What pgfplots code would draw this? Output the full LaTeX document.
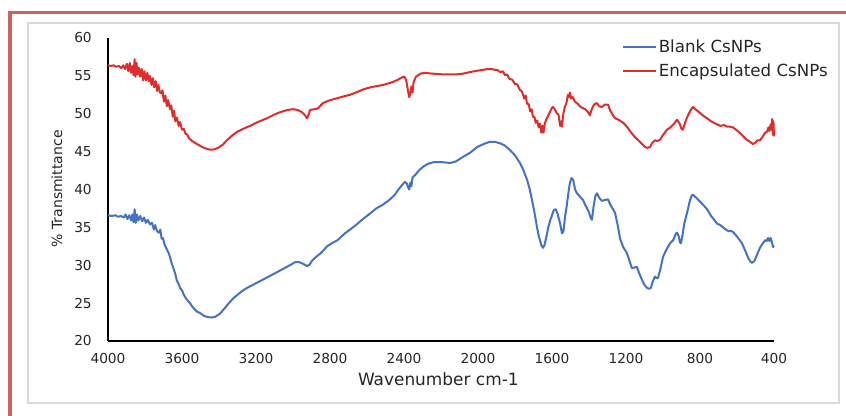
\documentclass[border=0pt]{standalone}
\usepackage{fontspec}
\setmainfont{DejaVu Sans}
\usepackage{pgfplots}
\pgfplotsset{compat=1.18}
\definecolor{blueline}{RGB}{68,114,196}
\definecolor{redline}{RGB}{222,45,42}
\definecolor{framered}{RGB}{207,96,92}
\definecolor{boxgray}{RGB}{217,217,217}

\pgfplotstableread{
x y
4000 36.6
3980 36.5
3960 36.6
3945 36.4
3930 36.5
3915 36.3
3905 36.7
3895 36.1
3885 36.6
3875 35.9
3868 36.7
3862 35.7
3856 37.4
3850 35.6
3844 36.7
3836 35.9
3826 36.5
3815 35.8
3805 36.3
3795 35.6
3785 36.0
3773 35.4
3762 35.6
3752 34.7
3745 35.3
3735 34.5
3725 34.3
3717 34.7
3710 33.5
3703 33.6
3695 32.8
3688 32.4
3680 32.0
3672 31.6
3665 31.1
3655 30.2
3645 29.5
3638 29.0
3628 28.0
3620 27.6
3610 27.0
3600 26.7
3590 26.1
3578 25.6
3568 25.3
3557 25.0
3540 24.4
3520 23.9
3503 23.7
3480 23.3
3460 23.15
3440 23.1
3420 23.2
3395 23.6
3370 24.3
3350 24.9
3324 25.6
3300 26.1
3275 26.6
3249 27.0
3210 27.5
3178 27.9
3140 28.4
3108 28.8
3070 29.3
3032 29.8
3010 30.1
2989 30.4
2965 30.4
2946 30.2
2924 29.9
2910 30.1
2897 30.6
2880 31.0
2865 31.3
2850 31.6
2830 32.1
2816 32.5
2790 32.9
2760 33.3
2746 33.6
2720 34.2
2692 34.7
2660 35.3
2622 36.1
2580 36.9
2550 37.5
2514 38.0
2480 38.6
2450 39.3
2430 40.0
2410 40.6
2395 41.0
2385 40.8
2378 40.3
2372 40.0
2366 40.9
2360 40.4
2354 41.6
2340 41.9
2320 42.5
2297 43.0
2270 43.4
2240 43.6
2222 43.6
2190 43.6
2151 43.5
2120 43.7
2081 44.3
2040 44.9
2005 45.6
1970 46.0
1935 46.3
1910 46.3
1881 46.1
1855 45.8
1827 45.2
1800 44.5
1773 43.5
1755 42.6
1735 41.3
1720 40.0
1708 38.6
1695 37.0
1681 35.0
1672 33.9
1665 33.3
1657 32.6
1649 32.3
1640 32.7
1630 33.8
1620 35.0
1610 35.9
1600 36.6
1590 37.3
1580 37.4
1570 36.8
1557 35.6
1546 34.2
1538 34.5
1530 36.3
1520 37.9
1510 39.8
1503 40.9
1495 41.5
1486 41.3
1475 40.0
1465 39.5
1450 39.1
1432 38.6
1415 37.7
1400 37.0
1390 36.2
1384 36.0
1375 37.8
1365 39.2
1357 39.5
1345 38.9
1330 38.5
1315 38.6
1297 38.7
1285 38.0
1270 37.4
1259 36.9
1245 35.3
1232 33.5
1215 32.4
1195 31.6
1180 30.5
1168 29.6
1155 29.7
1141 29.8
1128 28.9
1114 28.1
1100 27.4
1086 27.0
1075 26.9
1065 27.0
1055 27.9
1043 28.5
1035 28.3
1027 28.3
1015 29.4
1000 31.1
985 31.9
962 32.9
945 33.3
930 34.2
924 34.3
915 33.8
908 33.0
903 32.9
895 33.9
885 35.5
870 36.9
855 38.5
845 39.2
838 39.3
820 38.9
800 38.4
780 37.9
762 37.4
740 36.5
720 35.9
708 35.5
690 35.3
676 35.0
660 34.7
645 34.5
630 34.5
622 34.4
600 33.8
585 33.3
573 32.9
555 31.9
540 31.0
528 30.5
519 30.3
505 30.6
490 31.5
476 32.3
460 32.9
448 33.3
440 33.2
432 33.6
425 33.2
418 33.6
412 33.1
405 32.4
400 32.6
}\blank

\pgfplotstableread{
x y
4000 56.4
3985 56.3
3970 56.4
3955 56.2
3940 56.3
3928 56.0
3918 56.4
3908 55.9
3898 56.6
3890 55.6
3882 56.7
3875 55.4
3868 56.3
3862 55.1
3856 57.2
3852 54.9
3846 56.7
3840 55.2
3833 56.1
3826 54.9
3818 55.9
3810 54.4
3803 55.6
3795 54.4
3787 55.4
3780 54.3
3773 55.0
3765 53.8
3758 54.7
3750 53.5
3742 54.3
3735 53.0
3728 53.8
3719 52.8
3712 52.7
3705 53.1
3698 51.6
3690 52.4
3682 51.0
3675 51.8
3665 50.6
3658 51.1
3650 49.6
3643 50.4
3636 49.0
3627 49.5
3618 48.4
3610 48.9
3600 47.9
3590 48.0
3580 47.3
3573 47.3
3560 46.7
3545 46.4
3519 46.0
3490 45.6
3470 45.4
3449 45.25
3425 45.3
3405 45.5
3380 45.9
3357 46.5
3330 47.1
3303 47.6
3270 48.0
3232 48.4
3190 48.9
3141 49.4
3100 49.9
3070 50.2
3030 50.5
3000 50.6
2975 50.5
2951 50.2
2935 49.8
2924 49.4
2915 49.9
2908 50.5
2885 50.6
2865 50.7
2850 51.1
2838 51.4
2810 51.7
2784 51.9
2740 52.2
2692 52.5
2650 52.9
2622 53.2
2580 53.5
2514 53.8
2470 54.1
2440 54.4
2410 54.8
2398 54.9
2388 54.4
2378 53.0
2372 52.2
2366 52.6
2360 53.6
2354 52.8
2348 54.2
2335 54.9
2310 55.3
2286 55.4
2250 55.3
2189 55.2
2150 55.2
2114 55.2
2080 55.3
2043 55.5
2000 55.7
1970 55.8
1951 55.9
1925 55.9
1910 55.8
1897 55.8
1880 55.5
1865 55.6
1855 55.1
1843 55.2
1830 54.6
1815 54.5
1800 53.9
1789 53.9
1775 53.2
1762 52.9
1750 52.0
1742 52.4
1735 51.3
1726 51.3
1718 50.3
1710 50.6
1703 49.6
1695 49.6
1688 48.8
1680 49.1
1672 48.2
1665 48.7
1658 47.5
1652 48.4
1646 47.5
1640 48.6
1632 49.2
1622 49.7
1610 50.3
1600 50.8
1595 50.9
1585 50.6
1575 50.1
1565 49.9
1556 48.4
1550 49.0
1546 48.3
1540 49.8
1530 51.0
1522 51.4
1514 52.5
1508 52.2
1503 52.8
1496 52.0
1488 52.2
1476 51.6
1460 51.3
1450 51.0
1438 50.8
1420 50.6
1405 50.2
1395 49.8
1388 50.4
1378 51.0
1368 51.3
1357 51.4
1345 51.0
1330 50.9
1315 51.2
1297 51.2
1285 50.4
1270 49.8
1259 49.4
1240 49.2
1215 48.8
1195 48.3
1175 47.6
1151 46.9
1125 46.3
1097 45.6
1085 45.5
1070 45.6
1060 46.1
1043 46.5
1030 46.4
1015 46.6
1000 47.2
978 47.9
960 48.2
940 48.7
924 49.2
910 48.7
900 48.0
892 47.9
880 48.9
865 49.8
850 50.5
838 50.9
820 50.5
800 50.1
780 49.7
762 49.4
740 49.0
708 48.6
690 48.4
670 48.5
654 48.3
640 48.3
622 48.2
600 47.8
573 47.2
550 46.6
530 46.3
514 46.0
500 46.2
490 46.5
476 46.5
460 47.0
448 47.5
438 47.6
430 48.2
425 47.7
418 48.6
413 47.9
410 49.3
406 47.2
403 49.0
400 47.0
}\encap

\begin{document}
\begin{tikzpicture}
\begin{scope}[x=0.75pt,y=0.75pt]
\path[use as bounding box] (0,0) rectangle (846,416);
\fill[white] (0,0) rectangle (846,416);
\draw[boxgray, line width=1pt] (28,13) rectangle (839,393);
\draw[framered, line width=2.8pt, line join=miter] (10,0) -- (10,403.5) -- (846,403.5);
\end{scope}
\begin{axis}[
  at={(81pt,56.25pt)}, anchor=south west,
  scale only axis, width=499.5pt, height=227.25pt,
  x dir=reverse,
  xmin=400, xmax=4000, ymin=20, ymax=60,
  xtick={400,800,...,4000}, ytick={20,25,...,60},
  axis x line*=bottom, axis y line*=left,
  axis line style={black, line width=0.9pt},
  major tick length=0pt,
  scaled ticks=false,
  /pgf/number format/assume math mode=true,
  /pgf/number format/1000 sep={},
  tick label style={font=\fontsize{10.3}{12}\selectfont, text=black!85},
  xticklabel style={anchor=center, inner sep=0pt, yshift=-13.5pt},
  yticklabel style={anchor=east, inner sep=0pt, xshift=-12pt},
  xlabel={Wavenumber cm-1},
  ylabel={\% Transmittance},
  xlabel style={font=\fontsize{12.7}{14}\selectfont, text=black!85, at={(axis description cs:0.496,-0.125)}, anchor=center, inner sep=0pt},
  ylabel style={font=\fontsize{10.5}{12}\selectfont, text=black!85, at={(axis description cs:-0.0766,0.502)}, anchor=center, inner sep=0pt},
  legend style={draw=none, fill=none, inner sep=0pt, outer sep=0pt,
    at={(axis description cs:0.7718,0.995)}, anchor=north west,
    font=\fontsize{12.5}{14}\selectfont, text=black!85,
    row sep=6.3pt, column sep=1.5pt,
    nodes={inner sep=0pt, text height=10pt, text depth=1.5pt}},
  legend cell align=left,
  legend image code/.code={\draw[#1, line width=1.3pt] (0pt,0pt) -- (24.75pt,0pt);},
  clip=false,
]
\addplot[blueline, line width=1.5pt, line join=round] table[x=x,y=y] {\blank};
\addlegendentry{Blank CsNPs}
\addplot[redline, line width=1.5pt, line join=round] table[x=x,y=y] {\encap};
\addlegendentry{Encapsulated CsNPs}
\end{axis}
\end{tikzpicture}
\end{document}
